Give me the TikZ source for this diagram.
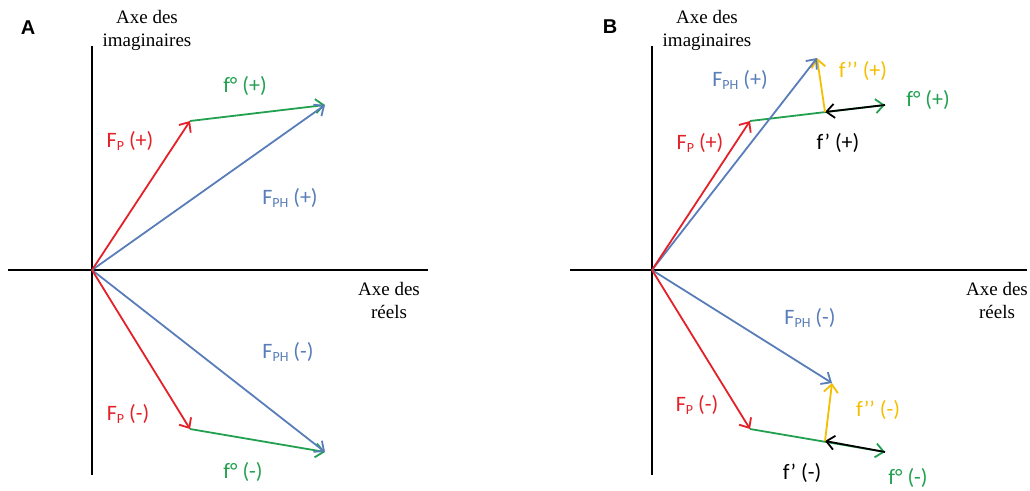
\documentclass[tikz,border=0pt]{standalone}
\usepackage{fontspec}
\setmainfont{Liberation Serif}
\newfontfamily\lblfont{Carlito}
\newfontfamily\panelfont{Liberation Sans}
\usetikzlibrary{arrows.meta}
\definecolor{cred}{RGB}{228,32,40}
\definecolor{cgreen}{RGB}{34,160,80}
\definecolor{cblue}{RGB}{88,125,185}
\definecolor{cyel}{RGB}{245,190,0}
\newcommand\mysub[1]{\raisebox{-0.35ex}{\fontsize{14}{14}\selectfont #1}}
\begin{document}
\begin{tikzpicture}[x=1pt,y=-1pt,
  axis/.style={draw=black,line width=1.8pt},
  vec/.style={line width=1.8pt,-{Straight Barb[length=8pt,width=14pt,line width=1.8pt]}},
  lbl/.style={font=\lblfont\fontsize{22}{24}\selectfont,inner sep=0pt,anchor=center},
  axlbl/.style={font=\fontsize{19}{23}\selectfont,align=center,inner sep=0pt},
  panel/.style={font=\panelfont\bfseries\fontsize{20}{22}\selectfont,inner sep=0pt}]
\useasboundingbox (0,0) rectangle (1030,490);
% ---------- Panel A ----------
\node[panel] (pA) at (28,28) {A};
\coordinate (oA) at (92,270);
\coordinate (vtA) at (92,46);
\coordinate (vbA) at (92,475);
\coordinate (hlA) at (8,270);
\coordinate (hrA) at (428,270);
\draw[axis] (vtA) -- (vbA);
\draw[axis] (hlA) -- (hrA);
\node[axlbl] (imA) at (147,30) {Axe des\\imaginaires};
\node[axlbl] (reA) at (389,300) {Axe des\\réels};
\coordinate (pA1) at (190,121);
\coordinate (tA1) at (325,105);
\coordinate (pA2) at (190,429);
\coordinate (tA2) at (325,452);
\draw[vec,cgreen] (pA1) -- (tA1);
\draw[vec,cblue] (oA) -- (tA1);
\draw[vec,cred] (oA) -- (pA1);
\draw[vec,cgreen] (pA2) -- (tA2);
\draw[vec,cblue] (oA) -- (tA2);
\draw[vec,cred] (oA) -- (pA2);
\node[lbl,cred] (lFPpA) at (130,141) {F\mysub{P} (+)};
\node[lbl,cgreen] (lfopA) at (245,86) {f° (+)};
\node[lbl,cblue] (lFPHpA) at (290,198) {F\mysub{PH} (+)};
\node[lbl,cred] (lFPmA) at (128,414) {F\mysub{P} (-)};
\node[lbl,cgreen] (lfomA) at (243,472) {f° (-)};
\node[lbl,cblue] (lFPHmA) at (288,352) {F\mysub{PH} (-)};
% ---------- Panel B ----------
\node[panel] (pB) at (610,27) {B};
\coordinate (oB) at (652,270);
\coordinate (vtB) at (652,46);
\coordinate (vbB) at (652,475);
\coordinate (hlB) at (570,270);
\coordinate (hrB) at (1027,270);
\draw[axis] (vtB) -- (vbB);
\draw[axis] (hlB) -- (hrB);
\node[axlbl] (imB) at (707,30) {Axe des\\imaginaires};
\node[axlbl] (reB) at (997,300) {Axe des\\réels};
% upper
\coordinate (pB1) at (750,121);
\coordinate (gB1) at (885,105);
\coordinate (kB1) at (825,112);
\coordinate (tB1) at (817,58);
\draw[vec,cgreen] (pB1) -- (gB1);
\draw[vec,black] (gB1) -- (kB1);
\draw[vec,cyel] (kB1) -- (tB1);
\draw[vec,cblue] (oB) -- (tB1);
\draw[vec,cred] (oB) -- (pB1);
% lower
\coordinate (pB2) at (750,429);
\coordinate (gB2) at (885,452);
\coordinate (kB2) at (825,441);
\coordinate (tB2) at (832,383);
\draw[vec,cgreen] (pB2) -- (gB2);
\draw[vec,black] (gB2) -- (kB2);
\draw[vec,cyel] (kB2) -- (tB2);
\draw[vec,cblue] (oB) -- (tB2);
\draw[vec,cred] (oB) -- (pB2);
\node[lbl,cblue] (lFPHpB) at (740,80) {F\mysub{PH} (+)};
\node[lbl,cyel] (lfsspB) at (863,71) {f’’ (+)};
\node[lbl,cgreen] (lfopB) at (928,100) {f° (+)};
\node[lbl,cred] (lFPpB) at (700,143) {F\mysub{P} (+)};
\node[lbl,black] (lfspB) at (838,143) {f’ (+)};
\node[lbl,cblue] (lFPHmB) at (810,318) {F\mysub{PH} (-)};
\node[lbl,cred] (lFPmB) at (697,405) {F\mysub{P} (-)};
\node[lbl,cyel] (lfssmB) at (878,410) {f’’ (-)};
\node[lbl,black] (lfsmB) at (802,473) {f’ (-)};
\node[lbl,cgreen] (lfomB) at (908,478) {f° (-)};
\end{tikzpicture}
\end{document}
